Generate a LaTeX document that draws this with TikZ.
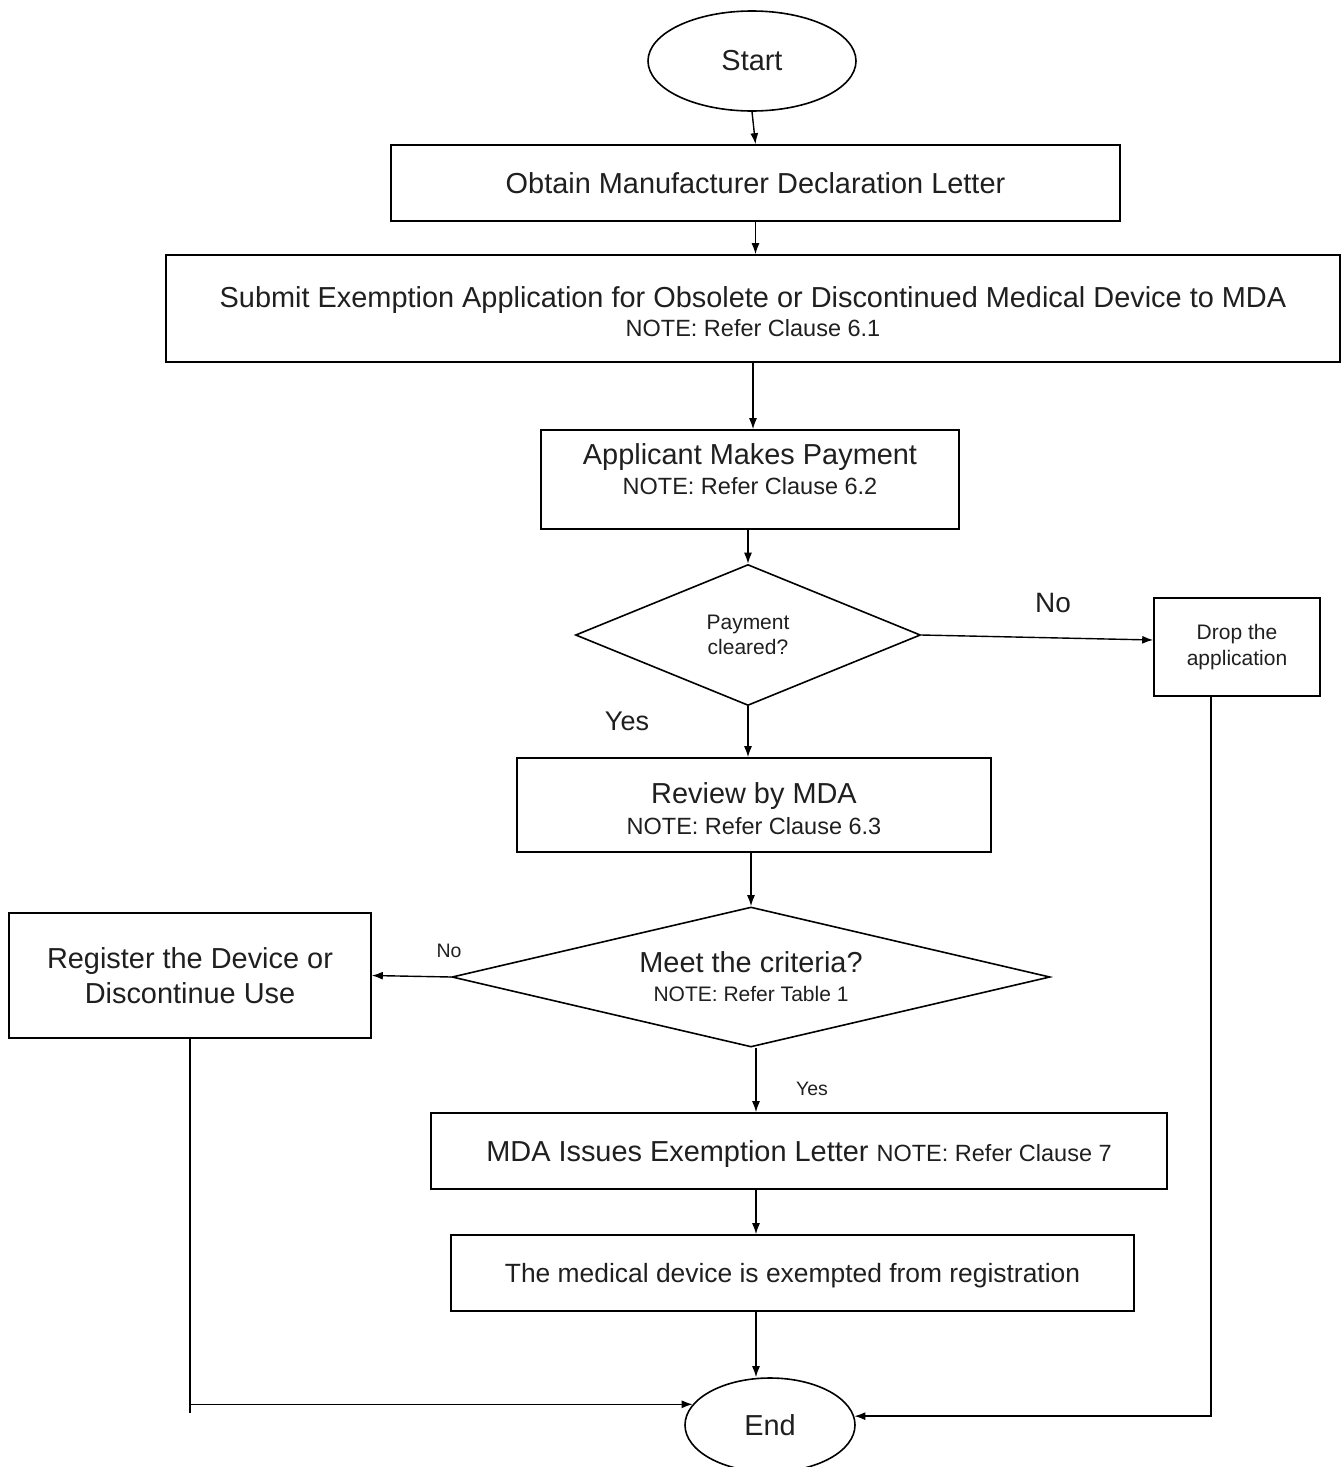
\documentclass[tikz,border=0pt]{standalone}
\usepackage{fontspec}
\setmainfont{Liberation Sans}
\usetikzlibrary{shapes.geometric,arrows.meta,calc}
\newcommand\FMain{\fontsize{28.9}{35}\selectfont}
\newcommand\FNote{\fontsize{23.5}{31}\selectfont}
\newcommand\FSmall{\fontsize{21}{25.5}\selectfont}
\newcommand\FTiny{\fontsize{21}{31}\selectfont}
\newcommand\FLab{\fontsize{19.5}{23}\selectfont}
\newcommand\FEx{\fontsize{26.4}{32}\selectfont}
\begin{document}
\begin{tikzpicture}[x=1pt,y=-1pt,
  box/.style={draw,line width=1.6pt,rectangle,inner sep=0pt,align=center,font=\FMain,text=black!88},
  txt/.style={inner sep=0pt,align=center,font=\FMain,text=black!88},
  oval/.style={draw,line width=1.6pt,ellipse,inner sep=0pt,font=\FMain,text=black!88},
  dia/.style={draw,line width=1.6pt,diamond,inner sep=0pt,align=center,text=black!88},
  arr/.style={draw,line width=1.4pt,-{Latex[length=11pt,width=8pt]}},
  lab/.style={inner sep=0pt,text=black!88}]
\useasboundingbox (0,0) rectangle (1343,1467);
% nodes
\node[oval,minimum width=208,minimum height=100] (start) at (752,61) {Start};
\node[box,minimum width=729,minimum height=76] (b1) at (755.5,183) {Obtain Manufacturer Declaration Letter};
\node[box,minimum width=1174,minimum height=107] (b2) at (753,308.5) {};
\node[txt] (b2t) at (753,312) {Submit Exemption Application for Obsolete or Discontinued Medical Device to MDA\\[-6pt]\FNote NOTE: Refer Clause 6.1};
\node[box,minimum width=418,minimum height=99] (b3) at (750,479.5) {};
\node[txt] (b3t) at (750,469.5) {Applicant Makes Payment\\[-5pt]\FNote NOTE: Refer Clause 6.2};
\node[dia,minimum width=345,minimum height=141,aspect=2.45,font=\FSmall] (d1) at (748,635) {Payment\\cleared?};
\node[box,minimum width=166,minimum height=98,font=\FSmall] (drop) at (1237,647) {Drop the\\application};
\node[box,minimum width=474,minimum height=94] (rev) at (754,805) {};
\node[txt] (revt) at (754,808.5) {Review by MDA\\[-4pt]\FNote NOTE: Refer Clause 6.3};
\node[dia,minimum width=598,minimum height=140,aspect=4.27,font=\FMain] (d2) at (751,977) {Meet the criteria?\\[-6pt]\FTiny NOTE: Refer Table 1};
\node[box,minimum width=362,minimum height=125] (reg) at (190,975.5) {Register the Device or\\Discontinue Use};
\node[box,minimum width=736,minimum height=76] (mda) at (799,1151) {};
\node[txt] (mdat) at (799,1154) {MDA Issues Exemption Letter {\FNote NOTE: Refer Clause 7}};
\node[box,minimum width=683,minimum height=76] (ex) at (792.5,1273) {};
\node[txt,font=\FEx] (ext) at (792.5,1276) {The medical device is exempted from registration};
\node[oval,minimum width=170,minimum height=94] (end) at (770,1425) {End};
% labels
\node[lab,font=\fontsize{28}{32}\selectfont] (lno1) at (1053,603) {No};
\node[lab,font=\fontsize{27}{32}\selectfont] (lyes1) at (627,721) {Yes};
\node[lab,font=\FLab] (lno2) at (449,951) {No};
\node[lab,font=\FLab] (lyes2) at (812,1089) {Yes};
% helper coordinates
\coordinate (cx) at (756,0);
\coordinate (dx) at (1211,0);
% connectors
\draw[arr] (start.south) -- (b1.north);
\draw[arr] (b1.south) -- (b1.south |- b2.north);
\draw[arr] (b2.south) -- (b2.south |- b3.north);
\draw[arr] (d1.north |- b3.south) -- (d1.north);
\draw[arr] (d1.east) -- ($(drop.west)+(0,-7)$);
\draw[arr] (d1.south) -- (d1.south |- rev.north);
\draw[arr] (d2.north |- rev.south) -- (d2.north);
\draw[arr] (d2.west) -- (reg.east);
\draw[arr] (cx |- d2.south) -- (cx |- mda.north);
\draw[arr] (cx |- mda.south) -- (cx |- ex.north);
\draw[arr] (cx |- ex.south) -- (cx |- end.north);
\draw[line width=1.4pt] (reg.south) -- ($(reg.south |- end.165)+(0,9)$);
\draw[arr] (reg.south |- end.165) -- (end.165);
\draw[arr] (dx |- drop.south) -- (dx |- end.6) -- (end.6);
\end{tikzpicture}
\end{document}
